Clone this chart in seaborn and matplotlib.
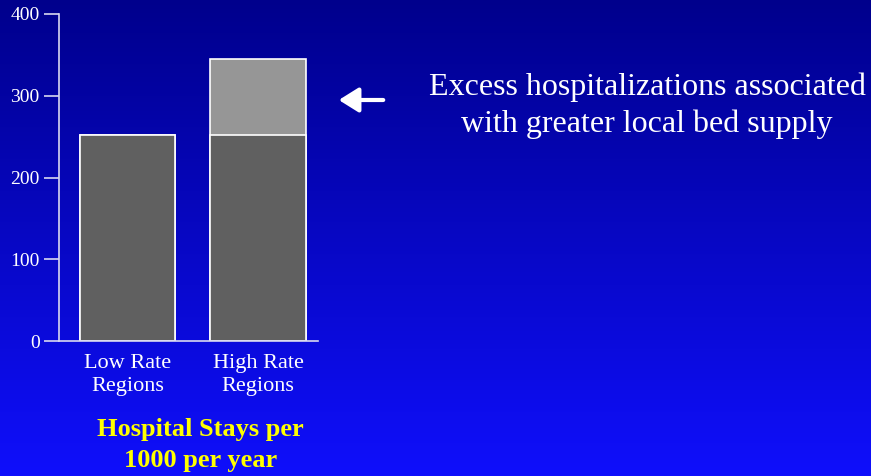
import numpy as np
import pandas as pd
import matplotlib
matplotlib.use("Agg")
import matplotlib.pyplot as plt
import seaborn as sns

# data
regions = ["Low Rate\nRegions", "High Rate\nRegions"]
base_stays = [252, 252]
excess_stays = [0, 93]
yticks = [0, 100, 200, 300, 400]

total_stays = [b + e for b, e in zip(base_stays, excess_stays)]
df = pd.DataFrame({"region": regions, "base": base_stays, "total": total_stays})

sns.set_style("white")
plt.rcParams["font.family"] = ["Liberation Serif", "DejaVu Serif"]

fig = plt.figure(figsize=(8.71, 4.76), dpi=100)

# gradient background
bg = fig.add_axes([0, 0, 1, 1], zorder=0)
grad = np.linspace(0, 1, 256).reshape(-1, 1)
top = np.array([0, 0, 140]) / 255
bot = np.array([15, 15, 252]) / 255
img = top + (bot - top) * grad[..., None]
bg.imshow(img, aspect="auto", extent=[0, 1, 0, 1])
bg.set_axis_off()

ax = fig.add_axes([0.0677, 0.2836, 0.2974, 0.687], zorder=1)
ax.set_facecolor("none")

sns.barplot(data=df, x="region", y="total", color="#969696", width=0.73,
            edgecolor="white", linewidth=1.2, saturation=1, ax=ax)
sns.barplot(data=df, x="region", y="base", color="#606060", width=0.73,
            edgecolor="white", linewidth=1.2, saturation=1, ax=ax)

ax.set_xlim(-0.525, 1.46)
ax.set_ylim(0, 400)
ax.set_yticks(yticks)
ax.set_xlabel("")
ax.set_ylabel("")
for s in ["top", "right"]:
    ax.spines[s].set_visible(False)
for s in ["left", "bottom"]:
    ax.spines[s].set_color("#d8d8f0")
    ax.spines[s].set_linewidth(1.2)
ax.tick_params(axis="y", colors="white", length=11, width=1.2, labelsize=14,
               color="#d8d8f0", left=True, pad=3)
ax.tick_params(axis="x", colors="white", length=0, labelsize=16, pad=9)
for lbl in ax.get_xticklabels():
    lbl.set_linespacing(1.33)

fig.text(0.230, 1 - 445 / 476, "Hospital Stays per\n1000 per year", color="#ffff00",
         fontsize=19, fontweight="bold", ha="center", va="center", linespacing=1.45)

fig.text(647 / 871, 1 - 105.5 / 476, "Excess hospitalizations associated\nwith greater local bed supply",
         color="white", fontsize=23, ha="center", va="center", linespacing=1.35)

fig.add_artist(matplotlib.patches.FancyArrowPatch(
    (386 / 871, 1 - 100 / 476), (336 / 871, 1 - 100 / 476),
    transform=fig.transFigure, arrowstyle="-|>,head_length=8,head_width=5",
    color="white", linewidth=3, mutation_scale=1.5))

fig.savefig("out.png", dpi=100)
